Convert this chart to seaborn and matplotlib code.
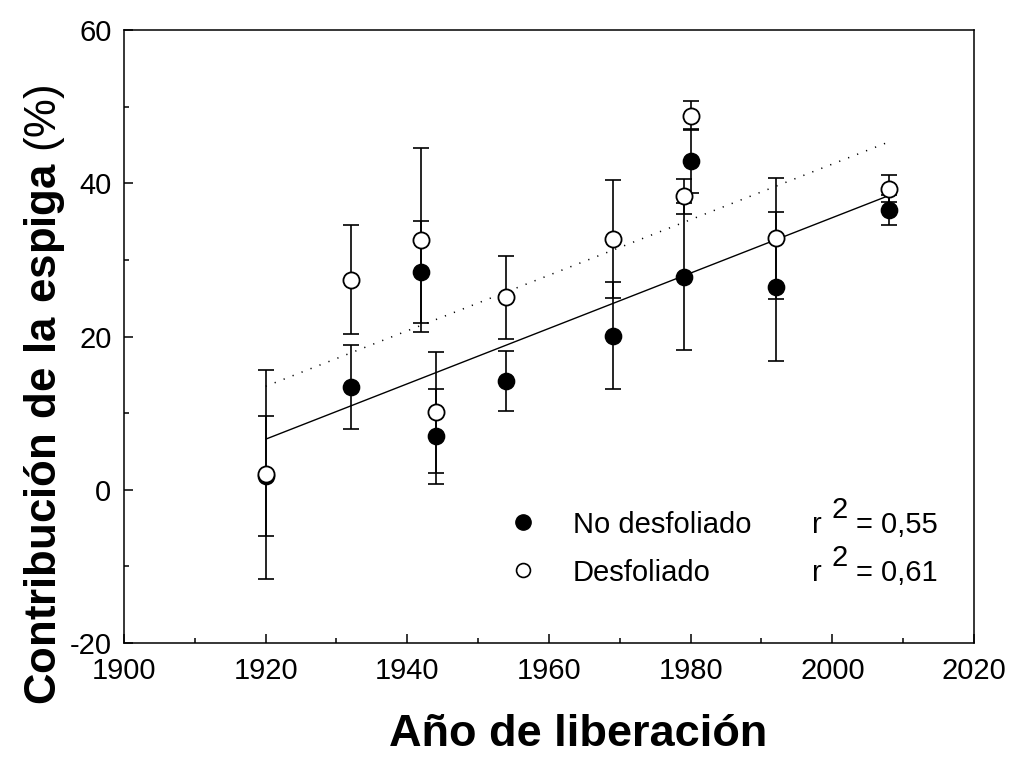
import pandas as pd
import seaborn as sns
import matplotlib
matplotlib.use("Agg")
import matplotlib.pyplot as plt
from matplotlib.ticker import MultipleLocator

# release year of each cultivar
years = [1920, 1932, 1942, 1944, 1954, 1969, 1979, 1980, 1992, 2008]

# ear contribution (%) and error, non defoliated / defoliated
no_des = [1.8, 13.4, 28.4, 7.0, 14.2, 20.1, 27.8, 42.9, 26.5, 36.5]
no_des_err = [7.8, 5.5, 6.7, 6.2, 3.9, 7.0, 9.6, 4.2, 9.7, 2.0]
des = [2.0, 27.4, 32.6, 10.1, 25.1, 32.7, 38.3, 48.8, 32.8, 39.3]
des_err = [13.6, 7.1, 12.0, 7.9, 5.4, 7.7, 2.3, 1.9, 7.9, 1.8]

# regression lines
fit_years = [1920, 2008]
fit_no = [6.6, 38.4]
fit_des = [13.5, 45.4]

labels = ["No desfoliado", "Desfoliado"]
r2_text = ["0,55", "0,61"]

sns.set_style("ticks")
plt.rcParams['font.family'] = ['Liberation Sans', 'DejaVu Sans']
plt.rcParams['mathtext.fontset'] = 'custom'
plt.rcParams['mathtext.rm'] = 'Liberation Sans'
plt.rcParams['mathtext.bf'] = 'Liberation Sans:bold'
plt.rcParams['axes.unicode_minus'] = False
for k in ['text.color', 'axes.labelcolor', 'xtick.color', 'ytick.color', 'axes.edgecolor']:
    plt.rcParams[k] = 'black'

df = pd.DataFrame({'year': years, 'no': no_des, 'no_err': no_des_err,
                   'des': des, 'des_err': des_err})
fits = pd.DataFrame({'year': fit_years, 'no': fit_no, 'des': fit_des})

fig = plt.figure(figsize=(10.11, 7.58), dpi=100)
ax = fig.add_axes([124 / 1011, 1 - 643 / 758, 850 / 1011, 613 / 758])

# error bars
ax.errorbar(df['year'], df['no'], yerr=df['no_err'], fmt='none', ecolor='black',
            elinewidth=1.2, capsize=6, capthick=1.2, zorder=2)
ax.errorbar(df['year'], df['des'], yerr=df['des_err'], fmt='none', ecolor='black',
            elinewidth=1.2, capsize=6, capthick=1.2, zorder=2)

# fit lines
sns.lineplot(data=fits, x='year', y='no', color='black', linewidth=1.0, ax=ax, zorder=3)
sns.lineplot(data=fits, x='year', y='des', color='black', linewidth=1.1,
             linestyle=(0, (0.8, 5.5)), ax=ax, zorder=3)

# points
sns.scatterplot(data=df, x='year', y='no', color='black', edgecolor='black',
                s=135, linewidth=1.1, ax=ax, zorder=4)
sns.scatterplot(data=df, x='year', y='des', color='white', edgecolor='black',
                s=135, linewidth=1.3, ax=ax, zorder=5)

ax.set_xlim(1900, 2020)
ax.set_ylim(-20, 60)
ax.xaxis.set_major_locator(MultipleLocator(20))
ax.xaxis.set_minor_locator(MultipleLocator(10))
ax.yaxis.set_major_locator(MultipleLocator(20))
ax.yaxis.set_minor_locator(MultipleLocator(10))
ax.tick_params(which='both', direction='in', width=1.1, labelsize=21)
ax.tick_params(axis='x', pad=10)
ax.tick_params(axis='y', pad=9)
ax.tick_params(which='major', length=6.5)
ax.tick_params(which='minor', length=3.8)
for sp in ax.spines.values():
    sp.set_linewidth(1.1)
    sp.set_visible(True)

ax.set_xlabel('')
ax.set_ylabel('')
fig.text(578 / 1011, 1 - 735 / 758, 'Año de liberación', fontsize=32.5, fontweight='bold',
         ha='center', va='center')
fig.text(45 / 1011, 1 - 395 / 758,
         r'$\mathbf{Contribución\ de\ la\ espiga}$ (%)', fontsize=31.5,
         rotation=90, ha='center', va='center')

# legend drawn by hand
ax.plot([0.469], [0.197], 'o', color='black', markersize=11, transform=ax.transAxes)
ax.plot([0.469], [0.119], 'o', markerfacecolor='white', markeredgecolor='black',
        markeredgewidth=1.2, markersize=10, transform=ax.transAxes)
for row, yy in enumerate([0.192, 0.114]):
    ax.text(0.528, yy, labels[row], fontsize=21, va='center', transform=ax.transAxes)
    ax.text(0.809, yy, 'r', fontsize=21, va='center', transform=ax.transAxes)
    ax.text(0.832, yy + 0.025, '2', fontsize=21, va='center', transform=ax.transAxes)
    ax.text(0.861, yy, '= ' + r2_text[row], fontsize=21, va='center',
            transform=ax.transAxes)

fig.savefig('out.png', dpi=100)
